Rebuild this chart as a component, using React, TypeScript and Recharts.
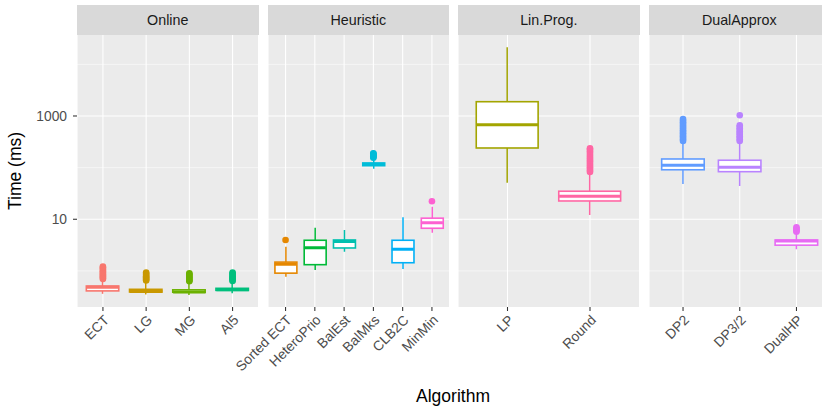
import { Bar, CartesianGrid, ComposedChart, Scatter, XAxis, YAxis } from "recharts";

// facet: Online
const onlineNames = ["ECT", "LG", "MG", "Al5"];
const onlineColors = ["#F8766D", "#C99800", "#6BB100", "#00BF7D"];
const onlineLo = [0.36, 0.35, 0.34, 0.37];
const onlineQ1 = [0.41, 0.39, 0.386, 0.42];
const onlineMed = [0.48, 0.40, 0.39, 0.43];
const onlineQ3 = [0.51, 0.44, 0.43, 0.46];
const onlineHi = [0.64, 0.6, 0.58, 0.6];
const onlineOut = [
  [0.7, 0.73, 0.77, 0.8, 0.84, 0.88, 0.93, 0.98, 1.04, 1.1, 1.16, 1.21],
  [0.65, 0.68, 0.71, 0.75, 0.79, 0.83, 0.88, 0.93],
  [0.63, 0.66, 0.7, 0.73, 0.77, 0.81, 0.86, 0.9],
  [0.64, 0.67, 0.71, 0.74, 0.78, 0.83, 0.88, 0.93],
];

// facet: Heuristic
const heurNames = ["Sorted ECT", "HeteroPrio", "BalEst", "BalMks", "CLB2C", "MinMin"];
const heurColors = ["#E58700", "#00BA38", "#00C0AF", "#00BCD8", "#00B0F6", "#FD61D1"];
const heurLo = [0.77, 1.04, 2.36, 95, 1.09, 5.5];
const heurQ1 = [0.905, 1.32, 2.78, 109, 1.44, 6.7];
const heurMed = [1.34, 2.82, 3.72, 116, 2.62, 8.6];
const heurQ3 = [1.48, 3.92, 3.97, 123, 3.92, 10.5];
const heurHi = [2.95, 6.88, 6.21, 145, 10.9, 17.5];
const heurOut = [[3.97], [], [], [155, 160, 166, 172, 179, 185, 190], [], [22.3]];

// facet: Lin.Prog.
const lpNames = ["LP", "Round"];
const lpColors = ["#A3A500", "#FF67A4"];
const lpLo = [51, 12.1];
const lpQ1 = [240, 22.6];
const lpMed = [678, 27.9];
const lpQ3 = [1890, 34.9];
const lpHi = [21400, 75];
const lpOut = [[], [82, 88, 95, 102, 110, 119, 128, 138, 150, 162, 176, 191, 208, 224, 237]];

// facet: DualApprox
const daNames = ["DP2", "DP3/2", "DualHP"];
const daColors = ["#619CFF", "#B983FF", "#E76BF3"];
const daLo = [48.2, 44.2, 2.62];
const daQ1 = [90.9, 83.5, 3.15];
const daMed = [111, 102, 3.8];
const daQ3 = [147, 139, 3.97];
const daHi = [300, 300, 5.2];
const daOut = [
  [328, 350, 375, 402, 430, 462, 495, 530, 570, 612, 655, 705, 757, 815, 875],
  [328, 352, 378, 405, 435, 468, 502, 540, 580, 620, 661, 1031],
  [5.75, 6.0, 6.3, 6.6, 7.0],
];

const yMajor = [10, 1000];
const yMinor = [1, 100, 10000];
const yDomain = [0.2, 37000];

const panels = [
  { title: "Online", names: onlineNames, colors: onlineColors, lo: onlineLo, q1: onlineQ1, med: onlineMed, q3: onlineQ3, hi: onlineHi, out: onlineOut },
  { title: "Heuristic", names: heurNames, colors: heurColors, lo: heurLo, q1: heurQ1, med: heurMed, q3: heurQ3, hi: heurHi, out: heurOut },
  { title: "Lin.Prog.", names: lpNames, colors: lpColors, lo: lpLo, q1: lpQ1, med: lpMed, q3: lpQ3, hi: lpHi, out: lpOut },
  { title: "DualApprox", names: daNames, colors: daColors, lo: daLo, q1: daQ1, med: daMed, q3: daQ3, hi: daHi, out: daOut },
];

const PANEL_LEFT = [77, 267.5, 458, 648.5];
const PANEL_W = 181.5;
const FONT = "'Liberation Sans', Arial, Helvetica, sans-serif";

function XTick(props: any) {
  const { x, y, payload } = props;
  return (
    <text x={x} y={y} dy="0.71em" textAnchor="end" transform={`rotate(-45 ${x} ${y})`} fill="#4D4D4D" fontSize={13.8}>
      {payload.value}
    </text>
  );
}

function Panel({ p, index }: { p: (typeof panels)[number]; index: number }) {
  const n = p.names.length;
  const unit = PANEL_W / (n + 0.2);
  const pad = 0.1 * unit;
  const boxW = 0.75 * unit;
  const first = index === 0;
  const lead = first ? 77 : 60;
  const rows = p.names.map((name, i) => ({
    name,
    x: i + 1,
    whisker: [p.lo[i], p.hi[i]],
    box: [p.q1[i], p.q3[i]],
    med: p.med[i],
    color: p.colors[i],
  }));
  const outRows = p.out.flatMap((vals, i) => vals.map((v) => ({ x: i + 1, v, color: p.colors[i] })));

  return (
    <div style={{ position: "absolute", left: PANEL_LEFT[index] - lead, top: 0 }}>
      <ComposedChart width={lead + PANEL_W} height={410} data={rows} margin={{ top: 35, right: 0, bottom: 13, left: first ? 0 : 60 }}>
        <CartesianGrid fill="#EBEBEB" stroke="#FFFFFF" strokeWidth={1.07} horizontal={false} />
        <CartesianGrid horizontalValues={yMinor} vertical={false} stroke="#FFFFFF" strokeWidth={0.53} />
        <CartesianGrid horizontalValues={yMajor} vertical={false} stroke="#FFFFFF" strokeWidth={1.07} />
        <XAxis
          dataKey="name"
          type="category"
          interval={0}
          padding={{ left: pad, right: pad }}
          axisLine={false}
          tickSize={4}
          tickMargin={3}
          tickLine={{ stroke: "#333333", strokeWidth: 1.07 }}
          tick={<XTick />}
          height={90}
        />
        <XAxis xAxisId="b" dataKey="name" type="category" padding={{ left: pad, right: pad }} hide />
        <XAxis xAxisId="n" dataKey="x" type="number" domain={[0.4, n + 0.6]} allowDataOverflow hide />
        <YAxis
          type="number"
          scale="log"
          domain={yDomain}
          allowDataOverflow
          ticks={yMajor}
          width={77}
          hide={!first}
          axisLine={false}
          tickSize={4}
          tickMargin={6}
          tickLine={{ stroke: "#333333", strokeWidth: 1.07 }}
          tick={{ fill: "#4D4D4D", fontSize: 13.8 }}
        />
        <Bar
          dataKey="whisker"
          barSize={boxW}
          isAnimationActive={false}
          shape={(s: any) => {
            const top = Math.min(s.y, s.y + s.height);
            const cx = s.x + s.width / 2;
            return <line x1={cx} x2={cx} y1={top} y2={top + Math.abs(s.height)} stroke={s.payload.color} strokeWidth={1.5} />;
          }}
        />
        <Bar
          xAxisId="b"
          dataKey="box"
          barSize={boxW}
          isAnimationActive={false}
          shape={(s: any) => {
            const top = Math.min(s.y, s.y + s.height);
            return <rect x={s.x} y={top} width={s.width} height={Math.abs(s.height)} fill="#FFFFFF" stroke={s.payload.color} strokeWidth={1.6} />;
          }}
        />
        <Scatter
          xAxisId="n"
          data={rows}
          dataKey="med"
          isAnimationActive={false}
          shape={(s: any) => (
            <line x1={s.cx - boxW / 2} x2={s.cx + boxW / 2} y1={s.cy} y2={s.cy} stroke={s.payload.color} strokeWidth={3} />
          )}
        />
        <Scatter
          xAxisId="n"
          data={outRows}
          dataKey="v"
          isAnimationActive={false}
          shape={(s: any) => <circle cx={s.cx} cy={s.cy} r={3.3} fill={s.payload.color} />}
        />
      </ComposedChart>
    </div>
  );
}

export default function App() {
  return (
    <div style={{ position: "absolute", left: 0, top: 0, width: 822, height: 410, overflow: "hidden", background: "#FFFFFF", fontFamily: FONT }}>
      <style>{".recharts-surface{overflow:visible}"}</style>
      {panels.map((p, i) => (
        <Panel key={p.title} p={p} index={i} />
      ))}
      {panels.map((p, i) => (
        <div
          key={`strip-${p.title}`}
          style={{
            position: "absolute",
            left: PANEL_LEFT[i],
            top: 5,
            width: PANEL_W,
            height: 30,
            background: "#D9D9D9",
            color: "#1A1A1A",
            fontSize: 14.3,
            display: "flex",
            alignItems: "center",
            justifyContent: "center",
          }}
        >
          {p.title}
        </div>
      ))}
      <div style={{ position: "absolute", left: 15, top: 171, transform: "translate(-50%, -50%) rotate(-90deg)", fontSize: 17.5, whiteSpace: "nowrap" }}>
        Time (ms)
      </div>
      <div style={{ position: "absolute", left: 453, top: 396, transform: "translate(-50%, -50%)", fontSize: 17.5, whiteSpace: "nowrap" }}>
        Algorithm
      </div>
    </div>
  );
}
